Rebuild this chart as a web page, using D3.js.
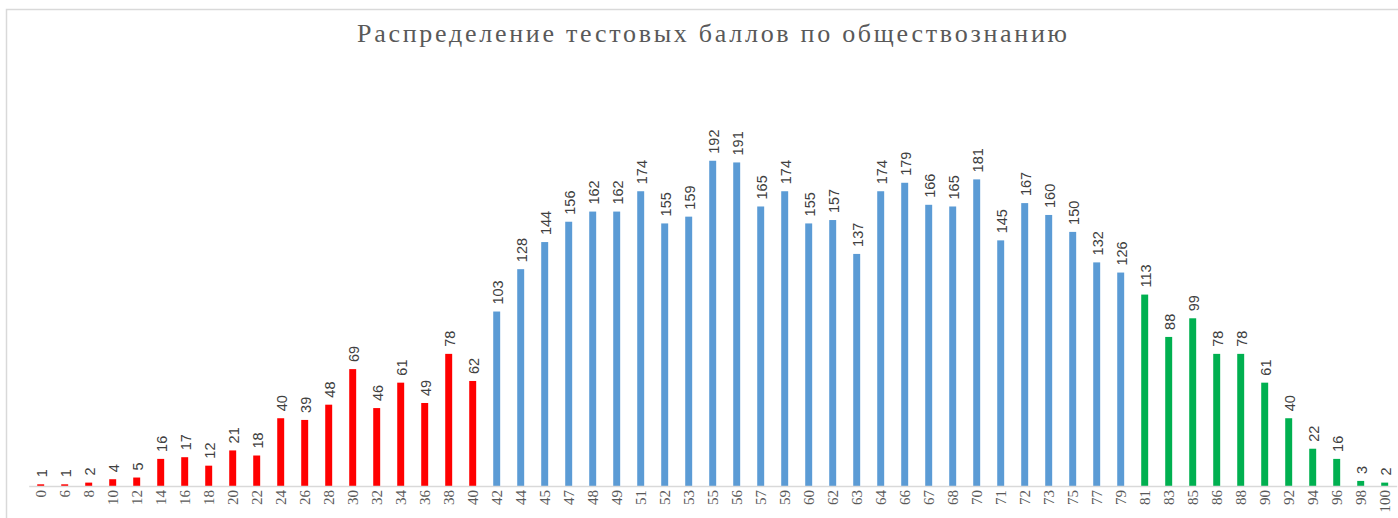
<!DOCTYPE html>
<html>
<head>
<meta charset="utf-8">
<script src="https://cdn.jsdelivr.net/npm/d3@7/dist/d3.min.js"></script>
<style>
  html, body { margin: 0; padding: 0; background: #ffffff; }
  svg { display: block; }
</style>
</head>
<body>
<svg id="chart" width="1398" height="518"></svg>
<script>
const chartTitle = "Распределение тестовых баллов по обществознанию";

const categories = [
  "0","6","8","10","12","14","16","18","20","22","24","26","28","30","32","34","36","38","40",
  "42","44","45","47","48","49","51","52","53","55","56","57","59","60","62","63","64","66","67","68","70","71","72","73","75","77","79",
  "81","83","85","86","88","90","92","94","96","98","100"
];

const values = [
  1,1,2,4,5,16,17,12,21,18,40,39,48,69,46,61,49,78,62,
  103,128,144,156,162,162,174,155,159,192,191,165,174,155,157,137,174,179,166,165,181,145,167,160,150,132,126,
  113,88,99,78,78,61,40,22,16,3,2
];

// group per category: low (red), middle (blue), high (green)
const groups = [
  "low","low","low","low","low","low","low","low","low","low","low","low","low","low","low","low","low","low","low",
  "mid","mid","mid","mid","mid","mid","mid","mid","mid","mid","mid","mid","mid","mid","mid","mid","mid","mid","mid","mid","mid","mid","mid","mid","mid","mid","mid",
  "high","high","high","high","high","high","high","high","high","high","high"
];

const groupColors = { low: "#FF0000", mid: "#5B9BD5", high: "#00B050" };

const data = categories.map((c, i) => ({ cat: c, value: values[i], group: groups[i] }));

const svg = d3.select("#chart");

// chart frame
svg.append("rect")
  .attr("x", 6.5).attr("y", 9.5)
  .attr("width", 1420).attr("height", 540)
  .attr("fill", "#ffffff")
  .attr("stroke", "#D9D9D9")
  .attr("stroke-width", 1.5);

// title
svg.append("text")
  .attr("x", 712).attr("y", 42)
  .attr("text-anchor", "middle")
  .attr("font-family", "'Liberation Serif', 'Times New Roman', serif")
  .attr("font-size", 26)
  .attr("fill", "#595959")
  .attr("textLength", 710)
  .attr("lengthAdjust", "spacing")
  .text(chartTitle);

const x0 = 28.7, step = 24;
const x = d3.scaleBand()
  .domain(categories)
  .range([x0, x0 + step * categories.length])
  .paddingInner(0.71)
  .paddingOuter(0.355);

const baseY = 486;
const y = d3.scaleLinear()
  .domain([0, 200])
  .range([baseY, baseY - 200 * 1.694]);

// bars
svg.append("g")
  .selectAll("rect")
  .data(data)
  .join("rect")
  .attr("x", d => x(d.cat))
  .attr("width", x.bandwidth())
  .attr("y", d => y(d.value))
  .attr("height", d => y(0) - y(d.value))
  .attr("fill", d => groupColors[d.group]);

// axis
const axis = d3.axisBottom(x).tickSize(0).tickSizeOuter(0).tickPadding(0);
const gAxis = svg.append("g")
  .attr("transform", `translate(0,${baseY})`)
  .call(axis);
gAxis.select(".domain")
  .attr("stroke", "#D9D9D9")
  .attr("stroke-width", 1.5);
gAxis.selectAll(".tick text")
  .attr("font-family", "'Liberation Serif', 'Times New Roman', serif")
  .attr("font-size", 15)
  .attr("fill", "#595959")
  .attr("text-anchor", "end")
  .attr("transform", "rotate(-90)")
  .attr("x", -4)
  .attr("y", 0)
  .attr("dy", "0.35em");

// value labels
svg.append("g")
  .selectAll("text")
  .data(data)
  .join("text")
  .attr("transform", d => `translate(${x(d.cat) + x.bandwidth() / 2 + 1},${y(d.value) - 7}) rotate(-90)`)
  .attr("dy", "0.35em")
  .attr("text-anchor", "start")
  .attr("font-family", "'Liberation Sans Narrow', 'Arial Narrow', 'Liberation Sans', sans-serif")
  .attr("font-size", 14.5)
  .attr("fill", "#404040")
  .text(d => d.value);
</script>
</body>
</html>
